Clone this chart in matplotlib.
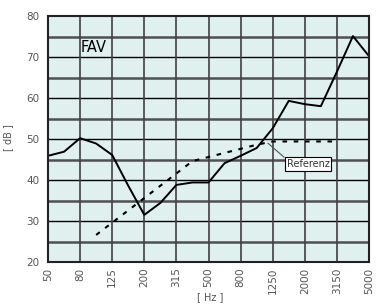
import matplotlib
matplotlib.use("Agg")
import matplotlib.pyplot as plt

# Terzband-Frequenzen
freqs = ["50", "63", "80", "100", "125", "160", "200", "250", "315", "400", "500",
         "630", "800", "1000", "1250", "1600", "2000", "2500", "3150", "4000", "5000"]
messung = [45.9, 46.9, 50.2, 48.9, 46.1, 38.6, 31.5, 34.4, 38.8, 39.4, 39.4,
           44.1, 45.9, 47.8, 52.6, 59.3, 58.5, 58.0, 66.4, 75.1, 70.2]
ref_freqs = ["100", "125", "160", "200", "250", "315", "400", "500",
             "630", "800", "1000", "1250", "1600", "2000", "2500", "3150"]
referenz = [26.6, 29.6, 32.6, 35.6, 38.6, 41.6, 44.6, 45.6,
            46.6, 47.6, 48.6, 49.4, 49.4, 49.4, 49.4, 49.4]
tick_labels = ["50", "80", "125", "200", "315", "500", "800", "1250", "2000", "3150", "5000"]

grau = "#555555"
fig = plt.figure(figsize=(3.77, 3.04), dpi=100)
ax = fig.add_axes([48 / 377, 1 - 262 / 304, 321 / 377, 246 / 304])
ax.set_facecolor("#dff0ef")

x = list(range(len(freqs)))
xr = [freqs.index(f) for f in ref_freqs]

# Raster
for v in range(25, 80, 10):
    ax.axhline(v, color="#505050", lw=1.8, zorder=1)
for v in range(30, 80, 10):
    ax.axhline(v, color="black", lw=1.0, zorder=1)
for i in range(0, 21, 2):
    ax.axvline(i, color="#404040", lw=1.2, zorder=1)

ax.plot(x, messung, color="black", lw=1.4, zorder=3)
ax.plot(xr, referenz, color="black", lw=1.5, ls=(0, (2.2, 3.2)), zorder=3)

ax.set_xlim(0, 20)
ax.set_ylim(20, 80)
ax.set_xticks([freqs.index(t) for t in tick_labels])
ax.set_xticklabels(tick_labels, rotation=90, color=grau, fontsize=7.5)
ax.set_yticks(range(20, 81, 10))
ax.tick_params(axis="y", colors=grau, labelsize=7.5, length=0, pad=6)
ax.tick_params(axis="x", length=0, pad=4)
for s in ax.spines.values():
    s.set_linewidth(1.5)
    s.set_color("#222222")
    s.set_zorder(4)

ax.text(2.05, 72.2, "FAV", fontsize=10.5, va="center", ha="left", color="black")
ax.annotate("Referenz", xy=(13.7, 49.0), xytext=(16.2, 43.8), fontsize=7,
            color="#333333", ha="center", va="center",
            bbox=dict(boxstyle="square,pad=0.2", fc="white", ec="black", lw=0.8),
            arrowprops=dict(arrowstyle="-", color=grau, lw=0.8, relpos=(0, 1),
                            shrinkA=0, shrinkB=0), zorder=5)

fig.text(8 / 377, 1 - 138 / 304, "[ dB ]", rotation=90, color=grau, fontsize=7,
         ha="center", va="center")
fig.text(210 / 377, 1 - 297 / 304, "[ Hz ]", color=grau, fontsize=7,
         ha="center", va="center")

fig.savefig("out.png", dpi=100)
